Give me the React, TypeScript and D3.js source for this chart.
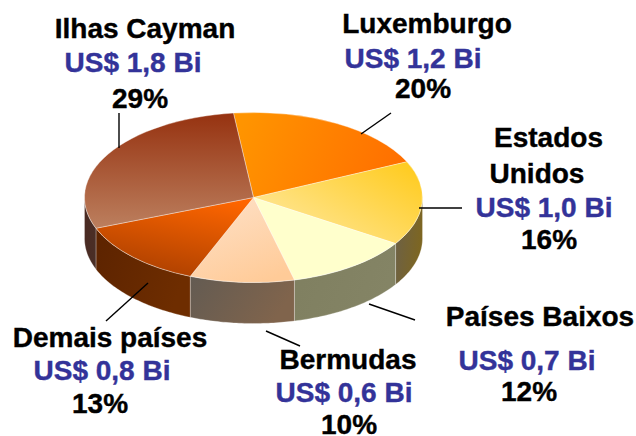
import React from 'react'
import * as d3 from 'd3'

// clockwise from the Luxemburgo slice
const categories = ['Luxemburgo', 'Estados Unidos', 'Países Baixos', 'Bermudas', 'Demais países', 'Ilhas Cayman']
const shares = [20, 16, 12, 10, 13, 29]
const amounts = ['US$ 1,2 Bi', 'US$ 1,0 Bi', 'US$ 0,7 Bi', 'US$ 0,6 Bi', 'US$ 0,8 Bi', 'US$ 1,8 Bi']

// slice colours: top gradient (from, to, direction) and side wall gradient
const topColors = [
  ['#ff9400', '#ff6e00', 0, 0.4, 1, 0.6],
  ['#ffcb1e', '#ffeaa6', 1, 0.1, 0, 0.9],
  ['#ffffcc', '#ffffcc', 0, 0, 1, 0],
  ['#fee0c6', '#ffcb98', 0.2, 0, 0.7, 1],
  ['#ff6600', '#ad4000', 0.8, 0, 0.4, 1],
  ['#963210', '#bc7f5e', 0.5, 0, 0.5, 1],
]
const sideColors = [
  ['#ff7000', '#ff7000'],
  ['#6b6049', '#7d6622'],
  ['#7f7f60', '#848465'],
  ['#635b52', '#80644c'],
  ['#5c2300', '#6e2d00'],
  ['#4a2a22', '#4a2e26'],
]

// label blocks: name lines, amount, share, each as [centre x, baseline y]
const labelLayout = [
  { name: [[427, 33]], amount: [413, 68], pct: [423, 98] },
  { name: [[548.5, 147], [537, 182.5]], amount: [544, 216.5], pct: [549, 249] },
  { name: [[540, 326]], amount: [527, 370], pct: [529, 401] },
  { name: [[348, 369]], amount: [344, 402], pct: [349, 433.5] },
  { name: [[110, 347]], amount: [102, 380], pct: [100, 413] },
  { name: [[145, 38]], amount: [133, 72], pct: [140, 108] },
]
const nameLines = [['Luxemburgo'], ['Estados', 'Unidos'], ['Países Baixos'], ['Bermudas'], ['Demais países'], ['Ilhas Cayman']]
const leaders = [
  [[391, 113], [361, 134]],
  [[419, 208], [462, 208]],
  [[369, 304], [415, 320]],
  [[266, 331], [300, 346]],
  [[106, 321], [148, 283]],
  [[119, 113], [119, 148]],
]

const W = 636
const H = 436
const cx = 253.5
const cy = 197.5
const rx = 169
const ry = 85
const depth = 41
const startAngle = -0.119

const pie = d3.pie<number>().sort(null).startAngle(startAngle).endAngle(startAngle + 2 * Math.PI)
const arcs = pie(shares)
const arc = d3.arc<d3.PieArcDatum<number>>().innerRadius(0).outerRadius(rx)
const wall = d3.area<number>()
  .x(a => cx + rx * Math.sin(a))
  .y0(a => cy - ry * Math.cos(a))
  .y1(a => cy - ry * Math.cos(a) + depth)

const wallPath = (d: d3.PieArcDatum<number>) => {
  const from = Math.max(d.startAngle, Math.PI / 2)
  const to = Math.min(d.endAngle, (3 * Math.PI) / 2)
  if (to <= from) return null
  return wall(d3.range(0, 41).map(i => from + ((to - from) * i) / 40))
}

const textStyle = { fontFamily: '"Liberation Sans", Arial, sans-serif', fontWeight: 700, fontSize: 28 }

export default function App() {
  return (
    <svg width={W} height={H} style={{ position: 'absolute', left: 0, top: 0, background: '#fff' }}>
      <defs>
        {topColors.map((c, i) => (
          <linearGradient key={i} id={`top${i}`} x1={c[2]} y1={c[3]} x2={c[4]} y2={c[5]}>
            <stop offset="0" stopColor={c[0] as string} />
            <stop offset="1" stopColor={c[1] as string} />
          </linearGradient>
        ))}
        {sideColors.map((c, i) => (
          <linearGradient key={i} id={`side${i}`} x1="0" y1="0" x2="1" y2="0.3">
            <stop offset="0" stopColor={c[0]} />
            <stop offset="1" stopColor={c[1]} />
          </linearGradient>
        ))}
      </defs>

      {arcs.map((d, i) => {
        const p = wallPath(d)
        return p ? <path key={i} d={p} fill={`url(#side${i})`} stroke="#fff" strokeOpacity={0.35} strokeWidth={0.8} /> : null
      })}
      <g transform={`translate(${cx},${cy}) scale(1,${ry / rx})`}>
        {arcs.map((d, i) => (
          <path key={i} d={arc(d) as string} fill={`url(#top${i})`} stroke="#fff" strokeOpacity={0.45} strokeWidth={0.8} vectorEffect="non-scaling-stroke" />
        ))}
      </g>

      {leaders.map((l, i) => (
        <line key={i} x1={l[0][0]} y1={l[0][1]} x2={l[1][0]} y2={l[1][1]} stroke="#000" strokeWidth={1.4} />
      ))}

      {categories.map((c, i) => {
        const lay = labelLayout[i]
        return (
          <g key={c} style={textStyle} textAnchor="middle">
            {nameLines[i].map((t, j) => (
              <text key={j} x={lay.name[j][0]} y={lay.name[j][1]} fill="#000" stroke="#000" strokeWidth={0.4}>{t}</text>
            ))}
            <text x={lay.amount[0]} y={lay.amount[1]} fill="#333399" stroke="#333399" strokeWidth={0.4}>{amounts[i]}</text>
            <text x={lay.pct[0]} y={lay.pct[1]} fill="#000" stroke="#000" strokeWidth={0.4}>{shares[i]}%</text>
          </g>
        )
      })}
    </svg>
  )
}
